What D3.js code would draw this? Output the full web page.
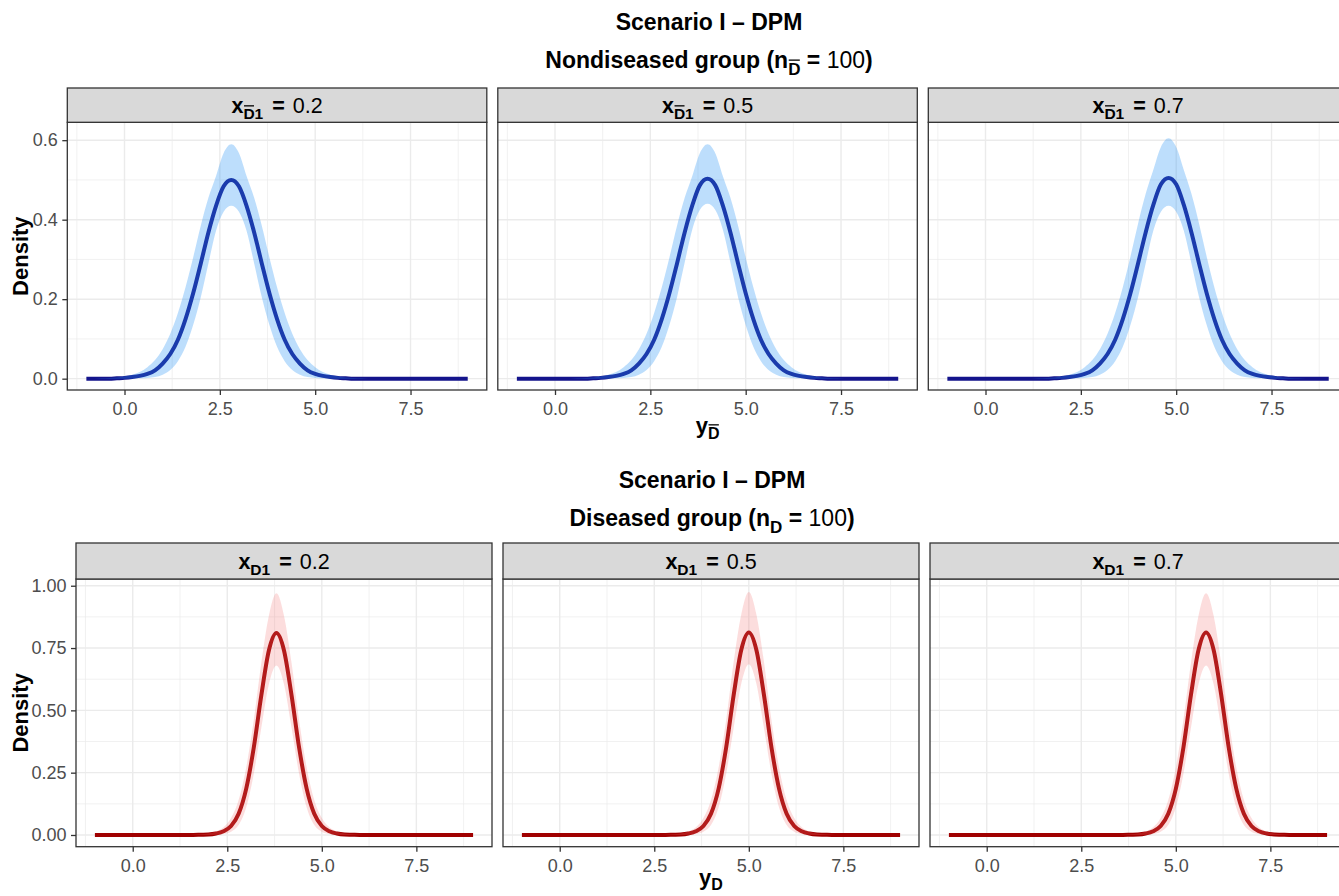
<!DOCTYPE html>
<html>
<head>
<meta charset="utf-8">
<script src="https://cdn.jsdelivr.net/npm/d3@7"></script>
<style>
  body { margin: 0; background: #fff; }
  svg { display: block; }
  text { font-family: "Liberation Sans", Arial, Helvetica, sans-serif; }
</style>
</head>
<body>
<svg id="chart" width="1339" height="896"></svg>
<script>
// ---- evaluation grid shared by every curve: y from -1 to 9, step 0.2 (51 points)
const gridStart = -1, gridStep = 0.2, gridCount = 51;

// ---- facet / axis labels
const covariateLabels = ["0.2", "0.5", "0.7"];
const xTicks = [0, 2.5, 5, 7.5];
const xTickLabels = ["0.0", "2.5", "5.0", "7.5"];
const xMinorTicks = [-1.25, 1.25, 3.75, 6.25, 8.75];
const yTicksNondiseased = [0, 0.2, 0.4, 0.6];
const yTickLabelsNondiseased = ["0.0", "0.2", "0.4", "0.6"];
const yMinorNondiseased = [0.1, 0.3, 0.5];
const yTicksDiseased = [0, 0.25, 0.5, 0.75, 1];
const yTickLabelsDiseased = ["0.00", "0.25", "0.50", "0.75", "1.00"];
const yMinorDiseased = [0.125, 0.375, 0.625, 0.875];

// ---- nondiseased group: posterior mean density and 95% band, x = 0.2 / 0.5 / 0.7
const ndMean1 = [0,0,0,0, .001,.002,.004,.007,.012,.021,.038,.062,.098,.150,.215,.290,.368,.435,.484,.500,.484,.435,.368,.290,.215,.150,.098,.062,.038,.021,.012,.007,.004,.002,.001, 0,0,0,0,0, 0,0,0,0,0, 0,0,0,0,0, 0];
const ndLow1  = [0,0,0,0,0, 0,0, .001,.002,.004,.010,.022,.044,.080,.135,.205,.290,.372,.420,.435,.420,.372,.290,.205,.135,.080,.044,.022,.010,.004,.002,.001, 0,0,0,0,0, 0,0,0,0,0, 0,0,0,0,0, 0,0,0,0];
const ndHigh1 = [0,0, .001,.002,.003,.006,.010,.017,.029,.047,.074,.113,.165,.230,.305,.385,.455,.510,.568,.590,.568,.510,.455,.385,.305,.230,.165,.113,.074,.047,.029,.017,.010,.006,.003,.002,.001, 0,0,0,0,0, 0,0,0,0,0, 0,0,0,0];

const ndMean2 = [0,0,0,0,0, 0,0,0,0,0, .001,.002,.004,.007,.012,.021,.038,.062,.098,.150,.215,.290,.368,.436,.487,.503,.487,.436,.368,.290,.215,.150,.098,.062,.038,.021,.012,.007,.004,.002,.001, 0,0,0,0,0, 0,0,0,0,0];
const ndLow2  = [0,0,0,0,0, 0,0,0,0,0, 0,0,0, .001,.002,.004,.010,.022,.044,.080,.135,.205,.292,.375,.425,.440,.425,.375,.292,.205,.135,.080,.044,.022,.010,.004,.002,.001, 0,0,0,0,0, 0,0,0,0,0, 0,0,0];
const ndHigh2 = [0,0,0,0,0, 0,0,0, .001,.002,.003,.006,.010,.017,.029,.047,.074,.113,.165,.230,.305,.385,.455,.510,.568,.590,.568,.510,.455,.385,.305,.230,.165,.113,.074,.047,.029,.017,.010,.006,.003,.002,.001, 0,0,0,0,0, 0,0,0];

const ndMean3 = [0,0,0,0,0, 0,0,0,0,0, 0,0,0,0, .001,.002,.004,.007,.012,.021,.038,.062,.098,.150,.215,.290,.368,.437,.489,.505,.489,.437,.368,.290,.215,.150,.098,.062,.038,.021,.012,.007,.004,.002,.001, 0,0,0,0,0, 0];
const ndLow3  = [0,0,0,0,0, 0,0,0,0,0, 0,0,0,0,0, 0,0, .001,.002,.004,.010,.022,.044,.080,.135,.205,.290,.372,.420,.435,.420,.372,.290,.205,.135,.080,.044,.022,.010,.004,.002,.001, 0,0,0,0,0, 0,0,0,0];
const ndHigh3 = [0,0,0,0,0, 0,0,0,0,0, 0,0, .001,.002,.003,.006,.010,.017,.029,.047,.074,.113,.165,.230,.307,.390,.465,.525,.583,.605,.583,.525,.465,.390,.307,.230,.165,.113,.074,.047,.029,.017,.010,.006,.003,.002,.001, 0,0,0,0];

// ---- diseased group: posterior mean density and 95% band, x = 0.2 / 0.5 / 0.7
const dMean1 = [0,0,0,0,0, 0,0,0,0,0, 0,0,0,0, .001,.002,.006,.015,.036,.085,.185,.350,.560,.740,.810,.740,.560,.350,.185,.085,.036,.015,.006,.002,.001, 0,0,0,0,0, 0,0,0,0,0, 0,0,0,0,0, 0];
const dLow1  = [0,0,0,0,0, 0,0,0,0,0, 0,0,0,0,0, 0, .001,.004,.013,.040,.110,.245,.430,.605,.680,.605,.430,.245,.110,.040,.013,.004,.001, 0,0,0,0,0, 0,0,0,0,0, 0,0,0,0,0, 0,0,0];
const dHigh1 = [0,0,0,0,0, 0,0,0,0,0, 0,0,0, .001,.003,.006,.014,.031,.068,.140,.270,.460,.690,.880,.970,.880,.690,.460,.270,.140,.068,.031,.014,.006,.003,.001, 0,0,0,0,0, 0,0,0,0,0, 0,0,0,0,0];

const dMean2 = [0,0,0,0,0, 0,0,0,0,0, 0,0,0,0,0, 0,0,0,0,0, .001,.002,.006,.015,.036,.085,.185,.350,.562,.742,.812,.742,.562,.350,.185,.085,.036,.015,.006,.002,.001, 0,0,0,0,0, 0,0,0,0,0];
const dLow2  = [0,0,0,0,0, 0,0,0,0,0, 0,0,0,0,0, 0,0,0,0,0, 0,0, .001,.004,.013,.040,.110,.245,.430,.607,.685,.607,.430,.245,.110,.040,.013,.004,.001, 0,0,0,0,0, 0,0,0,0,0, 0,0];
const dHigh2 = [0,0,0,0,0, 0,0,0,0,0, 0,0,0,0,0, 0,0,0,0, .001,.003,.006,.014,.031,.068,.140,.270,.460,.695,.885,.975,.885,.695,.460,.270,.140,.068,.031,.014,.006,.003,.001, 0,0,0,0,0, 0,0,0,0];

const dMean3 = [0,0,0,0,0, 0,0,0,0,0, 0,0,0,0,0, 0,0,0,0,0, 0,0,0,0, .001,.002,.006,.015,.036,.085,.185,.350,.562,.742,.812,.742,.562,.350,.185,.085,.036,.015,.006,.002,.001, 0,0,0,0,0, 0];
const dLow3  = [0,0,0,0,0, 0,0,0,0,0, 0,0,0,0,0, 0,0,0,0,0, 0,0,0,0,0, 0, .001,.004,.013,.040,.110,.245,.430,.605,.680,.605,.430,.245,.110,.040,.013,.004,.001, 0,0,0,0,0, 0,0,0];
const dHigh3 = [0,0,0,0,0, 0,0,0,0,0, 0,0,0,0,0, 0,0,0,0,0, 0,0,0, .001,.003,.006,.014,.031,.068,.140,.270,.460,.690,.880,.970,.880,.690,.460,.270,.140,.068,.031,.014,.006,.003,.001, 0,0,0,0,0];

// ---------------------------------------------------------------------------
const gridX = d3.range(gridCount).map(i => +(gridStart + i * gridStep).toFixed(2));

const svg = d3.select("#chart");
svg.append("rect").attr("width", 1339).attr("height", 896).attr("fill", "#fff");

const FONT_TITLE = 23, FONT_AXIS_TITLE = 22, FONT_TICK = 18, FONT_STRIP = 21.5;

// lay out a run of text pieces (normal / subscript / overlined) centred at cx
function richText(parent, pieces, cx, baseline, fill) {
  const g = parent.append("g");
  let pos = 0;
  pieces.forEach(p => {
    pos += p.before || 0;
    const dy = p.dy || 0;
    const t = g.append("text")
      .attr("x", pos).attr("y", dy)
      .attr("font-size", p.size)
      .attr("font-weight", p.weight || "bold")
      .attr("fill", fill || "#000")
      .style("white-space", "pre")
      .attr("xml:space", "preserve")
      .text(p.text);
    const len = t.node().getComputedTextLength();
    if (p.bar) {
      const yb = dy - 0.716 * p.size - 2.2;
      g.append("line")
        .attr("x1", pos + 0.6).attr("x2", pos + len - 0.6)
        .attr("y1", yb).attr("y2", yb)
        .attr("stroke", fill || "#000").attr("stroke-width", 1.3);
    }
    pos += len + (p.after || 0);
  });
  g.attr("transform", `translate(${cx - pos / 2},${baseline})`);
  return g;
}

const rows = [
  {
    subtitle: "Nondiseased group (n", bar: true,
    means: [ndMean1, ndMean2, ndMean3], lows: [ndLow1, ndLow2, ndLow3], highs: [ndHigh1, ndHigh2, ndHigh3],
    lineColor: "#14148c", bandColor: "#2a93f5", bandOpacity: 0.31,
    yTicks: yTicksNondiseased, yTickLabels: yTickLabelsNondiseased, yMinor: yMinorNondiseased,
    yDomain: [-0.0285, 0.645],
    titleBase: 30, subtitleBase: 68, titleX: 709,
    stripTop: 88, panelTop: 122.3, panelBottom: 390,
    left: 67.3, width: 419.5, gap: 11,
    densityX: 28, axisTitleOffset: 43
  },
  {
    subtitle: "Diseased group (n", bar: false,
    means: [dMean1, dMean2, dMean3], lows: [dLow1, dLow2, dLow3], highs: [dHigh1, dHigh2, dHigh3],
    lineColor: "#a00000", bandColor: "#f27070", bandOpacity: 0.24,
    yTicks: yTicksDiseased, yTickLabels: yTickLabelsDiseased, yMinor: yMinorDiseased,
    yDomain: [-0.047, 1.027],
    titleBase: 488, subtitleBase: 526, titleX: 712,
    stripTop: 543, panelTop: 579, panelBottom: 846.7,
    left: 76, width: 416, gap: 11,
    densityX: 28, axisTitleOffset: 38
  }
];

rows.forEach((row, ri) => {
  const root = svg.append("g");

  // titles
  root.append("text")
    .attr("x", row.titleX).attr("y", row.titleBase)
    .attr("text-anchor", "middle")
    .attr("font-size", FONT_TITLE).attr("font-weight", "bold")
    .text("Scenario I \u2013 DPM");
  richText(root, [
    { text: row.subtitle, size: FONT_TITLE },
    { text: "D", size: 17, dy: 6.5, bar: row.bar },
    { text: " = ", size: FONT_TITLE },
    { text: "100", size: FONT_TITLE, weight: "normal" },
    { text: ")", size: FONT_TITLE }
  ], row.titleX, row.subtitleBase);

  const y = d3.scaleLinear().domain(row.yDomain).range([row.panelBottom, row.panelTop]);
  const panelH = row.panelBottom - row.panelTop;

  row.means.forEach((meanVals, pi) => {
    const x0 = row.left + pi * (row.width + row.gap);
    const x = d3.scaleLinear().domain([-1.5, 9.5]).range([x0, x0 + row.width]);
    const g = root.append("g");
    const clipId = `clip-${ri}-${pi}`;
    g.append("clipPath").attr("id", clipId)
      .append("rect").attr("x", x0).attr("y", row.panelTop).attr("width", row.width).attr("height", panelH);

    // grid
    const grid = g.append("g");
    grid.selectAll(".vmin").data(xMinorTicks).join("line")
      .attr("x1", d => x(d)).attr("x2", d => x(d))
      .attr("y1", row.panelTop).attr("y2", row.panelBottom)
      .attr("stroke", "#ebebeb").attr("stroke-width", 0.7);
    grid.selectAll(".hmin").data(row.yMinor).join("line")
      .attr("x1", x0).attr("x2", x0 + row.width)
      .attr("y1", d => y(d)).attr("y2", d => y(d))
      .attr("stroke", "#ebebeb").attr("stroke-width", 0.7);
    grid.selectAll(".vmaj").data(xTicks).join("line")
      .attr("x1", d => x(d)).attr("x2", d => x(d))
      .attr("y1", row.panelTop).attr("y2", row.panelBottom)
      .attr("stroke", "#ebebeb").attr("stroke-width", 1.4);
    grid.selectAll(".hmaj").data(row.yTicks).join("line")
      .attr("x1", x0).attr("x2", x0 + row.width)
      .attr("y1", d => y(d)).attr("y2", d => y(d))
      .attr("stroke", "#ebebeb").attr("stroke-width", 1.4);

    const pts = gridX.map((gx, i) => ({ gx, m: meanVals[i], lo: row.lows[pi][i], hi: row.highs[pi][i] }));
    const plot = g.append("g").attr("clip-path", `url(#${clipId})`);

    // posterior mean density
    plot.append("path")
      .datum(pts)
      .attr("fill", "none")
      .attr("stroke", row.lineColor)
      .attr("stroke-width", 4)
      .attr("stroke-linejoin", "round")
      .attr("d", d3.line().x(d => x(d.gx)).y(d => y(d.m)).curve(d3.curveMonotoneX));

    // pointwise credible band, drawn over the line
    plot.append("path")
      .datum(pts)
      .attr("fill", row.bandColor)
      .attr("fill-opacity", row.bandOpacity)
      .attr("d", d3.area().x(d => x(d.gx)).y0(d => y(d.lo)).y1(d => y(d.hi)).curve(d3.curveMonotoneX));

    // panel border
    g.append("rect")
      .attr("x", x0).attr("y", row.panelTop).attr("width", row.width).attr("height", panelH)
      .attr("fill", "none").attr("stroke", "#333").attr("stroke-width", 1.3);

    // strip
    g.append("rect")
      .attr("x", x0).attr("y", row.stripTop).attr("width", row.width).attr("height", row.panelTop - row.stripTop)
      .attr("fill", "#d9d9d9").attr("stroke", "#333").attr("stroke-width", 1.3);
    richText(g, [
      { text: "x", size: FONT_STRIP },
      { text: "D", size: 15.5, dy: 6.5, bar: row.bar },
      { text: "1", size: 15.5, dy: 6.5, after: 3 },
      { text: " = ", size: FONT_STRIP, after: 2 },
      { text: covariateLabels[pi], size: FONT_STRIP, weight: "normal" }
    ], x0 + row.width / 2, (row.stripTop + row.panelTop) / 2 + 7.5);

    // x axis
    const xa = g.append("g")
      .attr("transform", `translate(0,${row.panelBottom})`)
      .call(d3.axisBottom(x).tickValues(xTicks).tickFormat((d, i) => xTickLabels[i])
        .tickSize(5).tickSizeOuter(0).tickPadding(7.5));
    xa.select(".domain").remove();
    xa.selectAll(".tick line").attr("stroke", "#333").attr("stroke-width", 1.3);
    xa.selectAll(".tick text").attr("fill", "#4d4d4d").attr("font-size", FONT_TICK)
      .attr("font-family", "Liberation Sans, Arial, sans-serif");

    // y axis on the first panel only
    if (pi === 0) {
      const ya = g.append("g")
        .attr("transform", `translate(${x0},0)`)
        .call(d3.axisLeft(y).tickValues(row.yTicks).tickFormat((d, i) => row.yTickLabels[i])
          .tickSize(5).tickSizeOuter(0).tickPadding(4.5));
      ya.select(".domain").remove();
      ya.selectAll(".tick line").attr("stroke", "#333").attr("stroke-width", 1.3);
      ya.selectAll(".tick text").attr("fill", "#4d4d4d").attr("font-size", FONT_TICK)
        .attr("font-family", "Liberation Sans, Arial, sans-serif");
    }
  });

  // axis titles
  root.append("text")
    .attr("transform", `translate(${row.densityX},${(row.panelTop + row.panelBottom) / 2}) rotate(-90)`)
    .attr("text-anchor", "middle")
    .attr("font-size", FONT_AXIS_TITLE).attr("font-weight", "bold")
    .text("Density");
  const axisCenter = row.left + (3 * row.width + 2 * row.gap) / 2;
  richText(root, [
    { text: "y", size: FONT_AXIS_TITLE },
    { text: "D", size: 16, dy: 5.5, bar: row.bar }
  ], axisCenter, row.panelBottom + row.axisTitleOffset);
});
</script>
</body>
</html>
